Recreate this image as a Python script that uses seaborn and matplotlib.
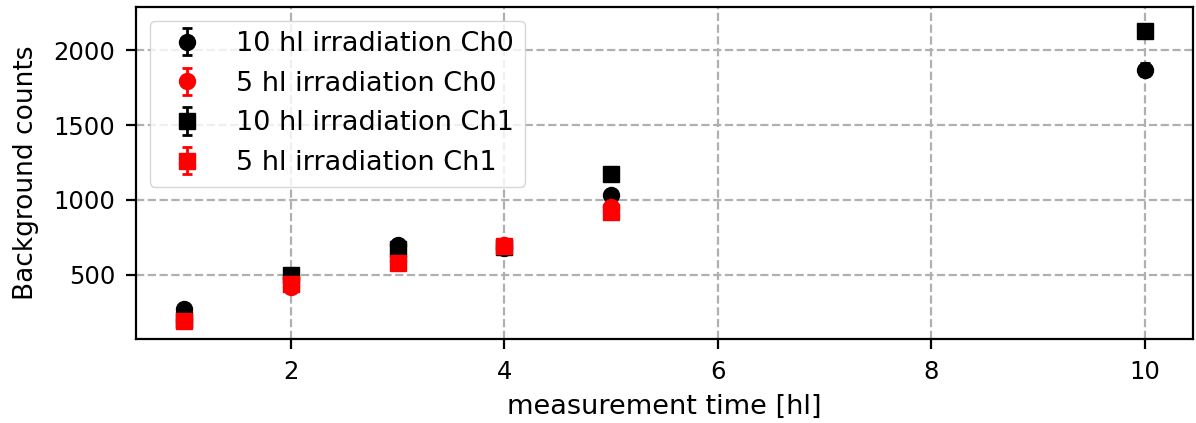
import numpy as np
import pandas as pd
import matplotlib
matplotlib.use("Agg")
import matplotlib.pyplot as plt
import seaborn as sns

# measurement times [hl]
times_10hl = [1, 2, 3, 4, 5, 10]
times_5hl = [1, 2, 3, 4, 5]

# background counts per channel
ch0_10hl = [270, 480, 700, 680, 1030, 1870]
ch0_5hl = [200, 420, 590, 700, 950]
ch1_10hl = [200, 500, 670, 685, 1170, 2130]
ch1_5hl = [190, 440, 577, 693, 918]

# statistical errors
err_ch0_10hl = [16, 22, 26, 26, 32, 43]
err_ch0_5hl = [14, 20, 24, 26, 31]
err_ch1_10hl = [14, 22, 26, 26, 34, 40]
err_ch1_5hl = [14, 21, 24, 26, 30]

series = [
    ("10 hl irradiation Ch0", times_10hl, ch0_10hl, err_ch0_10hl, "black", "o"),
    ("5 hl irradiation Ch0", times_5hl, ch0_5hl, err_ch0_5hl, "red", "o"),
    ("10 hl irradiation Ch1", times_10hl, ch1_10hl, err_ch1_10hl, "black", "s"),
    ("5 hl irradiation Ch1", times_5hl, ch1_5hl, err_ch1_5hl, "red", "s"),
]

sns.set_theme(style="ticks", rc={
    "text.color": "black",
    "axes.labelcolor": "black",
    "xtick.color": "black",
    "ytick.color": "black",
    "axes.edgecolor": "black",
})
plt.rcParams["font.family"] = ["DejaVu Sans"]

fig, ax = plt.subplots(figsize=(11.96, 4.23), dpi=100)
fig.subplots_adjust(left=136 / 1196, right=1193 / 1196, top=1 - 7 / 423, bottom=1 - 339 / 423)

for label, x, y, err, color, marker in series:
    df = pd.DataFrame({"t": x, "counts": y, "err": err})
    ax.errorbar(df["t"], df["counts"], yerr=df["err"], fmt=marker, color=color,
                markersize=11.5, capsize=3.6, elinewidth=2, capthick=2,
                label=label)

ax.grid(True, linestyle="--", color="#b0b0b0", linewidth=1.6)
ax.set_axisbelow(True)
for s in ax.spines.values():
    s.set_linewidth(1.6)
ax.tick_params(axis="both", labelsize=17.5, direction="out", length=7, width=1.6, pad=8)
ax.set_xlabel("measurement time [hl]", fontsize=19.5, labelpad=7)
ax.set_ylabel("Background counts", fontsize=19, labelpad=10)
ax.set_xticks([2, 4, 6, 8, 10])
ax.set_yticks([500, 1000, 1500, 2000])
ax.set_ylim(73, 2287)

ax.legend(loc="upper left", fontsize=19.5, frameon=True, framealpha=0.8,
          edgecolor="#cccccc", fancybox=True)

fig.savefig("out.png", dpi=100)
